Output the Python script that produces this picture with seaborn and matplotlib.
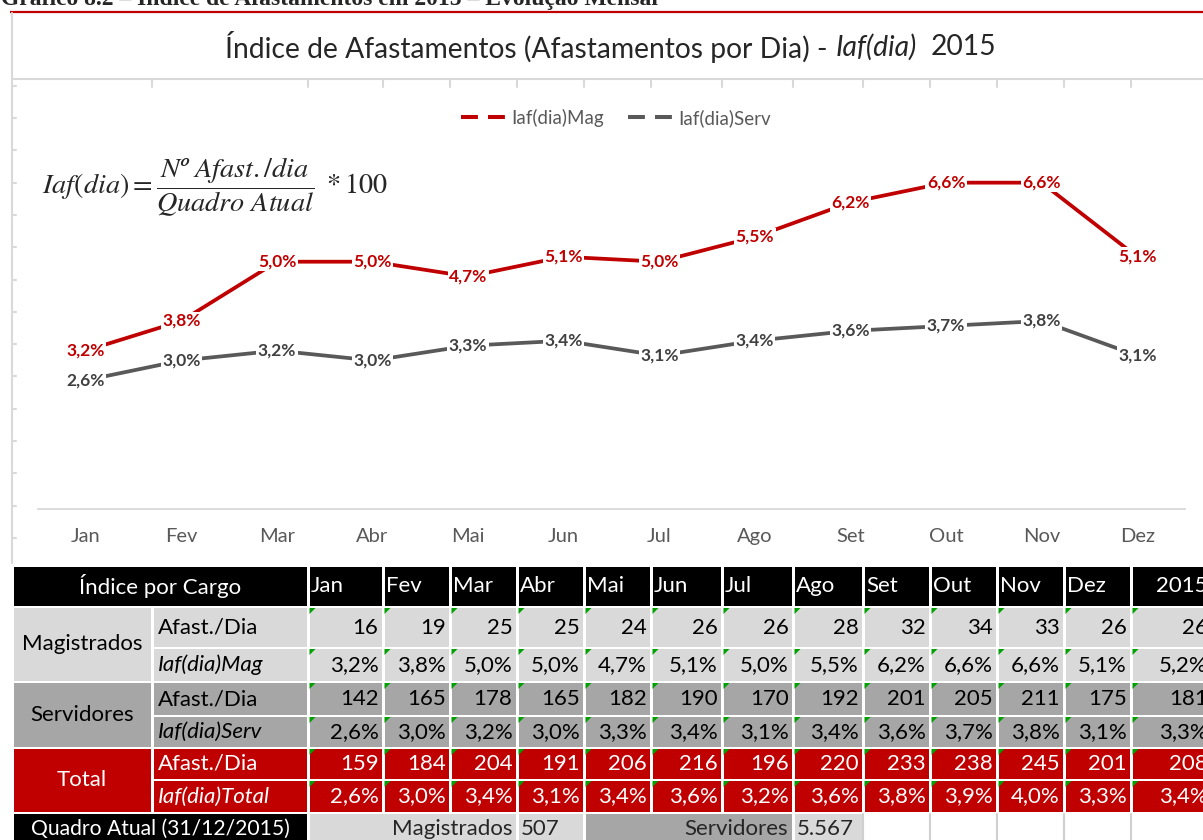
import matplotlib
matplotlib.use('Agg')
import matplotlib.pyplot as plt
from matplotlib.patches import Rectangle, Polygon
from matplotlib.lines import Line2D
import seaborn as sns
import pandas as pd
import numpy as np

meses = ['Jan', 'Fev', 'Mar', 'Abr', 'Mai', 'Jun', 'Jul', 'Ago', 'Set', 'Out', 'Nov', 'Dez']
iaf_mag = [3.2, 3.8, 5.0, 5.0, 4.7, 5.1, 5.0, 5.5, 6.2, 6.6, 6.6, 5.1]
iaf_serv = [2.6, 3.0, 3.2, 3.0, 3.3, 3.4, 3.1, 3.4, 3.6, 3.7, 3.8, 3.1]
iaf_total = [2.6, 3.0, 3.4, 3.1, 3.4, 3.6, 3.2, 3.6, 3.8, 3.9, 4.0, 3.3]
afast_mag = [16, 19, 25, 25, 24, 26, 26, 28, 32, 34, 33, 26]
afast_serv = [142, 165, 178, 165, 182, 190, 170, 192, 201, 205, 211, 175]
afast_total = [159, 184, 204, 191, 206, 216, 196, 220, 233, 238, 245, 201]
ano_label = '2015'
ano_afast = [26, 181, 208]      # Mag, Serv, Total
ano_iaf = [5.2, 3.3, 3.4]
quadro_mag = 507
quadro_serv = 5567

RED = '#c00000'
GRAY = '#595959'
LIGHT = '#d9d9d9'
MID = '#a6a6a6'
GRID = '#d9d9d9'


def pct(v):
    return f'{v:.1f}%'.replace('.', ',')


sns.set_style('white')
plt.rcParams['font.family'] = ['Lato', 'DejaVu Sans']

W, H = 1203, 840
fig = plt.figure(figsize=(W / 100, H / 100), dpi=100)
renderer = fig.canvas.get_renderer()

# camada de fundo em pixels (moldura + tabela)
deco = fig.add_axes([0, 0, 1, 1])
deco.set_xlim(0, W)
deco.set_ylim(H, 0)
deco.axis('off')

deco.text(1, 5, 'Gráfico 8.2 – Índice de Afastamentos em 2015 – Evolução Mensal',
          family='Liberation Serif', fontweight='bold', fontsize=17,
          ha='left', va='baseline')
deco.plot([10, W], [12, 12], color=RED, lw=1.6, solid_capstyle='butt')

# moldura do gráfico (linhas de grade do excel por trás)
col_edges = [12, 152, 308, 383, 450, 517, 584, 651, 722, 793, 863, 930, 997, 1064, 1131, 1212]
deco.plot([12, 12], [13, 563], color=GRID, lw=1.5)
for yy in np.arange(538, 80, -32.3):
    deco.plot([12, 15.5], [yy, yy], color=GRID, lw=1.5)
deco.plot([12, W], [79, 79], color=GRID, lw=1.5)
for xx in col_edges[1:-1]:
    deco.plot([xx, xx], [79, 87], color=GRID, lw=1.5)

# ---- tabela ----
row_edges = [566, 607, 648, 682, 716, 748, 780, 813, 852]
FS = 16


def cell(x0, x1, y0, y1, fc):
    deco.add_patch(Rectangle((x0 + 1.5, y0 + 1), x1 - x0 - 3, y1 - y0 - 2,
                             fc=fc, ec='none'))


def tri(x0, y0):
    deco.add_patch(Polygon([(x0 + 1.5, y0 + 1), (x0 + 7.5, y0 + 1), (x0 + 1.5, y0 + 7)],
                           closed=True, fc='#00a000', ec='none'))


# cabeçalho
r0, r1 = row_edges[0], row_edges[1]
cell(12, 308, r0, r1, 'black')
deco.text(160, (r0 + r1) / 2, 'Índice por Cargo', color='white', fontsize=FS,
          ha='center', va='center')
for j, m in enumerate(meses):
    x0, x1 = col_edges[2 + j], col_edges[3 + j]
    cell(x0, x1, r0, r1, 'black')
    deco.text(x0 + 3, (r0 + r1) / 2, m, color='white', fontsize=FS, ha='left', va='center')
cell(col_edges[-2], col_edges[-1], r0, r1, 'black')
deco.text(col_edges[-1] - 4.5, (r0 + r1) / 2, ano_label, color='white', fontsize=FS,
          ha='right', va='center')

grupos = [
    ('Magistrados', 'Iaf(dia)Mag', afast_mag, iaf_mag, LIGHT, 'black'),
    ('Servidores', 'Iaf(dia)Serv', afast_serv, iaf_serv, MID, 'black'),
    ('Total', 'Iaf(dia)Total', afast_total, iaf_total, RED, 'white'),
]
for g, (nome, sub_iaf, afast, iaf, fc, tc) in enumerate(grupos):
    ya, yb, yc = row_edges[1 + 2 * g], row_edges[2 + 2 * g], row_edges[3 + 2 * g]
    cell(12, 152, ya, yc, fc)
    deco.text(82, (ya + yc) / 2, nome, color=tc, fontsize=FS, ha='center', va='center')
    linhas = [
        ('Afast./Dia', 'normal', [str(v) for v in afast] + [str(ano_afast[g])], ya, yb),
        (sub_iaf, 'italic', [pct(v) for v in iaf] + [pct(ano_iaf[g])], yb, yc),
    ]
    for rot, est, vals, y0, y1 in linhas:
        cell(152, 308, y0, y1, fc)
        deco.text(158, (y0 + y1) / 2, rot, color=tc, fontsize=FS, style=est,
                  ha='left', va='center')
        for j, txt in enumerate(vals):
            x0, x1 = col_edges[2 + j], col_edges[3 + j]
            cell(x0, x1, y0, y1, fc)
            tri(x0, y0)
            deco.text(x1 - 4.5, (y0 + y1) / 2, txt, color=tc, fontsize=FS,
                      ha='right', va='center')

# quadro atual
q0, q1 = row_edges[-2], row_edges[-1]
qy = 829
cell(12, 308, q0, q1, 'black')
deco.text(160, qy, 'Quadro Atual (31/12/2015)', color='white', fontsize=15.2,
          ha='center', va='center')
cell(308, 517, q0, q1, LIGHT)
deco.text(512, qy, 'Magistrados', fontsize=FS, ha='right', va='center')
cell(517, 584, q0, q1, LIGHT)
deco.text(521, qy, str(quadro_mag), fontsize=FS, ha='left', va='center')
cell(584, 793, q0, q1, MID)
deco.text(788, qy, 'Servidores', fontsize=FS, ha='right', va='center')
cell(793, 863, q0, q1, LIGHT)
deco.text(797, qy, f'{quadro_serv:,}'.replace(',', '.'), fontsize=FS, ha='left', va='center')
for xx in col_edges[10:]:
    deco.plot([xx, xx], [q0 + 1, H], color='#d0d0d0', lw=1.5)

# ---- gráfico de linhas ----
ax = fig.add_axes([38 / W, 1 - 508.7 / H, 1147 / W, 395.2 / H])
ax.patch.set_alpha(0)

df = pd.DataFrame({
    'mes': meses * 2,
    'valor': iaf_mag + iaf_serv,
    'serie': ['Iaf(dia)Mag'] * len(meses) + ['Iaf(dia)Serv'] * len(meses),
})
sns.lineplot(data=df, x='mes', y='valor', hue='serie', sort=False,
             palette={'Iaf(dia)Mag': RED, 'Iaf(dia)Serv': GRAY},
             linewidth=2.7, legend=False, ax=ax)

for serie, cor in [(iaf_mag, RED), (iaf_serv, '#404040')]:
    for i, v in enumerate(serie):
        ax.text(i, v, pct(v), color=cor, fontsize=12.5, fontweight='bold',
                ha='center', va='center', zorder=5,
                bbox=dict(boxstyle='square,pad=0.08', fc='white', ec='none'))

ax.set_xlim(-0.5, len(meses) - 0.5)
ax.set_ylim(0, 8)
ax.set_yticks([])
ax.set_xlabel('')
ax.set_ylabel('')
sns.despine(ax=ax, left=True)
ax.spines['bottom'].set_color(GRID)
ax.spines['bottom'].set_linewidth(1.3)
ax.tick_params(axis='x', length=0, pad=14, labelsize=14.5, labelcolor=GRAY)

handles = [Line2D([], [], color=RED, lw=2.9, dashes=(4.2, 2.5)),
           Line2D([], [], color=GRAY, lw=2.9, dashes=(4.2, 2.5))]
fig.legend(handles, ['Iaf(dia)Mag', 'Iaf(dia)Serv'], loc='center',
           bbox_to_anchor=(616 / W, 1 - 118 / H), ncol=2, frameon=False,
           fontsize=13.5, handlelength=2.4, handletextpad=0.27, columnspacing=1.33,
           labelcolor=GRAY)

# título com trecho em itálico, montado peça por peça
TFS = 20.3
partes = [('Índice de Afastamentos (Afastamentos por Dia) -', 'normal'),
          ('Iaf(dia)', 'italic'), ('2015', 'normal')]
espacos = [1, 2]


def largura(s, est):
    t = fig.text(0, 0, s, fontsize=TFS, style=est)
    w = t.get_window_extent(renderer).width
    t.remove()
    return w


esp = largura('x x', 'normal') - largura('xx', 'normal')
ws = [largura(s, e) for s, e in partes]
total = sum(ws) + esp * sum(espacos)
x = 611 - total / 2
for k, (s, e) in enumerate(partes):
    fig.text(x / W, 1 - 47 / H, s, style=e, fontsize=TFS, ha='left', va='center')
    x += ws[k]
    if k < len(espacos):
        x += esp * espacos[k]

fig.text(42 / W, 1 - 187 / H,
         r'$Iaf(dia) = \dfrac{Nº\ Afast./dia}{Quadro\ Atual}\ * 100$',
         math_fontfamily='stix', fontsize=20.3, ha='left', va='center')

fig.savefig('out.png', dpi=100)
